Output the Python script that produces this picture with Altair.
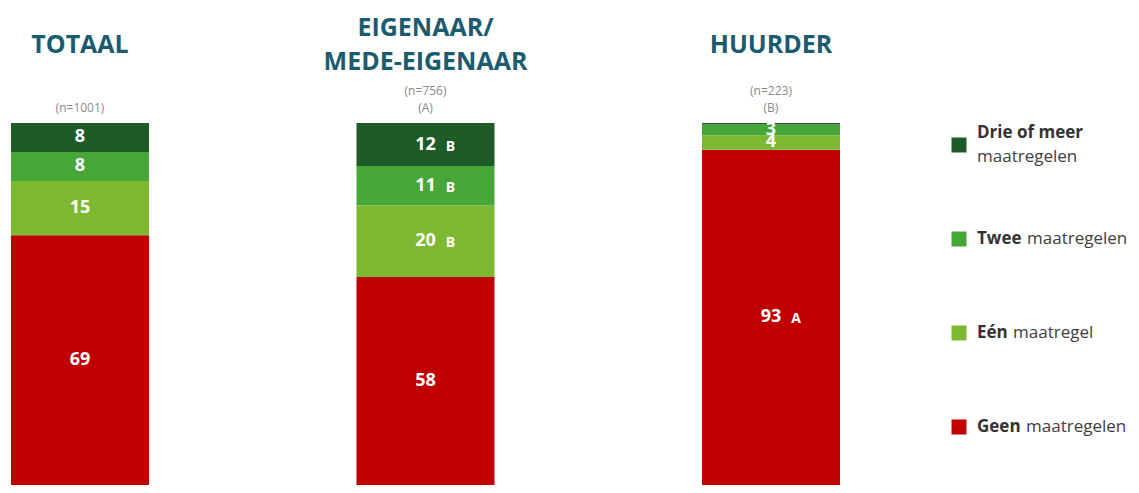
import altair as alt
import pandas as pd

F = "Open Sans"

groups = ["TOTAAL", "EIGENAAR", "HUURDER"]
titles = ["TOTAAL", "EIGENAAR/\nMEDE-EIGENAAR", "HUURDER"]
n_labels = ["(n=1001)", "(n=756)\n(A)", "(n=223)\n(B)"]

categories = ["Geen maatregelen", "Eén maatregel", "Twee maatregelen", "Drie of meer maatregelen"]
colors = ["#c00000", "#7db832", "#46a737", "#1d5b27"]

geen = [69, 58, 93]
een = [15, 20, 4]
twee = [8, 11, 3]
drie = [8, 12, 0.4]

sig_geen = ["", "", "A"]
sig_een = ["", "B", ""]
sig_twee = ["", "B", ""]
sig_drie = ["", "B", ""]

legend_order = ["Drie of meer maatregelen", "Twee maatregelen", "Eén maatregel", "Geen maatregelen"]
legend_bold = ["Drie of meer", "Twee", "Eén", "Geen"]
legend_rest = ["maatregelen", "maatregelen", "maatregel", "maatregelen"]

series = [geen, een, twee, drie]
sigs = [sig_geen, sig_een, sig_twee, sig_drie]
rows = []
for ci, cat in enumerate(categories):
    for gi, g in enumerate(groups):
        v = series[ci][gi]
        rows.append(dict(group=g, cat=cat, order=ci, value=v,
                         sig=sigs[ci][gi], label=str(int(round(v)))))
df = pd.DataFrame(rows)

x_enc = alt.X("group:N", sort=groups,
              scale=alt.Scale(domain=groups, paddingInner=0.6006, paddingOuter=0),
              axis=None)
ys = alt.Scale(domain=[0, 1], nice=False)
color_scale = alt.Scale(domain=categories, range=colors)

base = alt.Chart(df).transform_stack(
    stack="value", groupby=["group"], as_=["y0", "y1"], offset="normalize",
    sort=[alt.SortField("order", order="ascending")]
).transform_calculate(mid="(datum.y0 + datum.y1) / 2")

bars = base.mark_bar().encode(
    x=x_enc,
    y=alt.Y("y0:Q", scale=ys, axis=None),
    y2="y1:Q",
    color=alt.Color("cat:N", scale=color_scale, legend=None),
)

labels = base.transform_filter("datum.value >= 1").mark_text(
    font=F, fontSize=18, fontWeight="bold", color="white", baseline="middle"
).encode(x=x_enc, y=alt.Y("mid:Q", scale=ys, axis=None), text="label:N")

sig_layer = base.transform_filter("datum.sig != ''").mark_text(
    font=F, fontSize=14, fontWeight="bold", color="white", baseline="middle", dx=25, dy=2
).encode(x=x_enc, y=alt.Y("mid:Q", scale=ys, axis=None), text="sig:N")

df_t = pd.DataFrame(dict(group=groups, title=titles, n=n_labels))
single_t = "indexof(datum.title, '\\n') < 0"
multi_t = "indexof(datum.title, '\\n') >= 0"
single_n = "indexof(datum.n, '\\n') < 0"
multi_n = "indexof(datum.n, '\\n') >= 0"

title_kw = dict(font=F, fontSize=25, fontWeight="bold", color="#1b5b70",
                lineBreak="\n", lineHeight=34, baseline="middle")
title_single = alt.Chart(df_t).transform_filter(single_t).mark_text(**title_kw).encode(
    x=x_enc, y=alt.value(-78), text="title:N")
title_multi = alt.Chart(df_t).transform_filter(multi_t).mark_text(**title_kw).encode(
    x=x_enc, y=alt.value(-95), text="title:N")

n_kw = dict(font=F, fontSize=12, color="#8a8a8a", lineBreak="\n", lineHeight=17,
            baseline="middle")
n_single = alt.Chart(df_t).transform_filter(single_n).mark_text(**n_kw).encode(
    x=x_enc, y=alt.value(-15), text="n:N")
n_multi = alt.Chart(df_t).transform_filter(multi_n).mark_text(**n_kw).encode(
    x=x_enc, y=alt.value(-32), text="n:N")

df_l = pd.DataFrame(dict(cat=legend_order, bold=legend_bold, rest=legend_rest))
ly = alt.Y("cat:N", scale=alt.Scale(type="point", domain=legend_order, range=[22, 304], padding=0),
           axis=None)

squares = alt.Chart(df_l).mark_square(size=225, opacity=1).encode(
    x=alt.value(948), y=ly, color=alt.Color("cat:N", scale=color_scale, legend=None)
)

bold_dy = [-12, 0, 0, 0]
rest_dy = [12, 0, 0, 0]
rest_dx = [0, 50, 36, 49]
legend_layers = []
for i, c in enumerate(legend_order):
    legend_layers.append(
        alt.Chart(df_l).transform_filter(alt.datum.cat == c).mark_text(
            font=F, fontSize=17, fontWeight="bold", color="#333333",
            align="left", baseline="middle", dy=bold_dy[i]
        ).encode(x=alt.value(966), y=ly, text="bold:N")
    )
    legend_layers.append(
        alt.Chart(df_l).transform_filter(alt.datum.cat == c).mark_text(
            font=F, fontSize=17, color="#404040",
            align="left", baseline="middle", dx=rest_dx[i], dy=rest_dy[i]
        ).encode(x=alt.value(966), y=ly, text="rest:N")
    )

chart = alt.layer(
    bars, labels, sig_layer, title_single, title_multi, n_single, n_multi,
    squares, *legend_layers
).resolve_scale(y="independent").properties(
    width=829, height=362,
    autosize=alt.AutoSizeParams(type="none"),
    padding={"left": 3, "top": 115, "right": 291, "bottom": 0},
).configure_view(strokeWidth=0)

chart.save("out.html", embed_options={"renderer": "svg", "actions": False})
